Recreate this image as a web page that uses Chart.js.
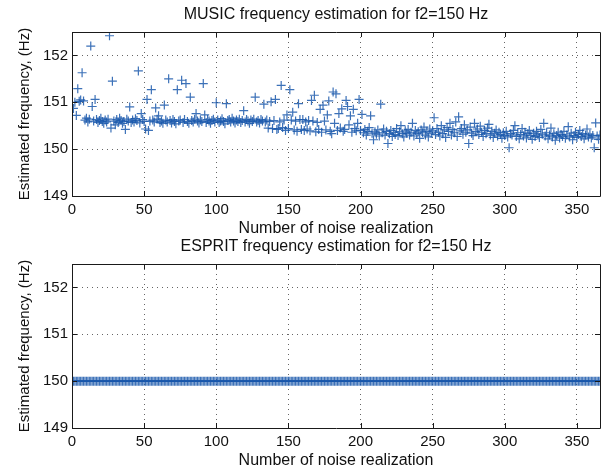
<!DOCTYPE html>
<html><head><meta charset="utf-8">
<script src="https://cdn.jsdelivr.net/npm/chart.js@4/dist/chart.umd.min.js"></script>
<style>
html,body{margin:0;padding:0;background:#fff;}
#wrap{position:relative;width:612px;height:471px;}
#c1{position:absolute;left:0;top:0;}
#c2{position:absolute;left:0;top:237px;}
</style></head><body>
<div id="wrap"><canvas id="c1" width="612" height="240"></canvas><canvas id="c2" width="612" height="234"></canvas></div>
<script>
const musicTitle = "MUSIC frequency estimation for f2=150 Hz";
const espritTitle = "ESPRIT frequency estimation for f2=150 Hz";
const xLabel = "Number of noise realization";
const yLabel = "Estimated frequency, (Hz)";
const xTicks = [0,50,100,150,200,250,300,350];
const yTicks = [149,150,151,152];

const music = [
150.87,151.00,150.72,151.29,151.02,151.05,151.63,151.03,150.62,150.66,
150.58,150.64,152.20,150.91,150.60,151.06,150.63,150.57,150.61,150.66,
150.59,150.55,150.62,150.58,150.64,152.42,150.45,151.45,150.60,150.52,
150.63,150.57,150.66,150.61,150.55,150.59,150.42,150.64,150.60,150.90,
150.57,150.62,150.58,150.65,150.61,151.67,150.56,150.76,150.63,150.59,
150.43,151.06,150.40,150.60,151.27,150.62,150.58,150.88,150.64,150.71,
150.57,150.60,150.55,150.94,150.62,150.58,151.50,150.61,150.56,150.63,
150.59,150.54,151.27,150.60,150.62,151.47,150.57,150.63,151.40,150.59,
150.55,151.11,150.61,150.58,150.64,150.76,150.60,150.56,150.62,150.59,
151.40,150.73,150.57,150.63,150.60,150.55,150.61,150.64,150.58,150.99,
150.62,150.57,150.60,150.65,150.59,150.54,150.97,150.61,150.63,150.58,
150.66,150.60,150.56,150.62,150.59,150.64,150.57,150.61,150.82,150.58,
150.63,150.60,150.55,150.62,150.59,150.64,151.11,150.58,150.61,150.56,
150.63,150.60,150.96,150.58,150.62,150.45,150.59,151.01,150.44,150.61,
151.06,150.42,150.44,150.58,151.36,150.46,150.62,150.40,150.73,150.44,
151.27,150.62,150.79,150.41,150.60,150.38,150.97,150.63,150.42,150.63,
150.40,150.58,150.43,150.61,150.39,151.04,150.60,151.15,150.37,150.57,
150.42,150.85,150.36,150.94,150.60,150.41,150.73,151.03,150.38,150.33,
151.22,150.55,151.18,150.40,150.76,150.45,150.86,150.38,150.42,151.04,
150.91,150.52,150.71,150.36,150.85,150.44,150.39,150.55,151.06,150.40,
150.74,150.35,150.42,150.30,150.38,150.46,150.71,150.34,150.20,150.37,
150.32,150.41,150.28,150.96,150.35,150.43,150.30,150.38,150.12,150.33,
150.40,150.27,150.36,150.31,150.44,150.29,150.37,150.50,150.33,150.26,
150.39,150.34,150.42,150.30,150.36,150.55,150.28,150.40,150.33,150.37,
150.23,150.41,150.35,150.47,150.30,150.38,150.26,150.43,150.34,150.39,
150.67,150.31,150.44,150.36,150.28,150.50,150.33,150.41,150.25,150.46,
150.38,150.55,150.30,150.42,150.35,150.58,150.27,150.69,150.39,150.44,
150.32,150.52,150.36,150.41,150.12,150.47,150.34,150.29,150.55,150.38,
150.43,150.31,150.49,150.36,150.27,150.40,150.33,150.45,150.53,150.30,
150.38,150.25,150.34,150.41,150.28,150.36,150.31,150.23,150.35,150.29,
150.38,150.26,150.03,150.33,150.30,150.40,150.50,150.27,150.35,150.22,
150.31,150.44,150.28,150.36,150.24,150.33,150.40,150.29,150.21,150.34,
150.27,150.38,150.30,150.25,150.42,150.32,150.55,150.28,150.35,150.22,
150.30,150.45,150.26,150.33,150.19,150.29,150.36,150.24,150.31,150.27,
150.38,150.23,150.30,150.48,150.26,150.34,150.20,150.29,150.36,150.25,
150.31,150.40,150.27,150.33,150.22,150.30,150.43,150.26,150.32,150.24,
150.29,150.03,150.56,150.28,150.21,150.30
];

const esprit = [
150,150,150,150,150,150,150,150,150,150,150,150,150,150,150,150,150,150,150,150,150,150,150,150,150,150,150,150,150,150,
150,150,150,150,150,150,150,150,150,150,150,150,150,150,150,150,150,150,150,150,150,150,150,150,150,150,150,150,150,150,
150,150,150,150,150,150,150,150,150,150,150,150,150,150,150,150,150,150,150,150,150,150,150,150,150,150,150,150,150,150,
150,150,150,150,150,150,150,150,150,150,150,150,150,150,150,150,150,150,150,150,150,150,150,150,150,150,150,150,150,150,
150,150,150,150,150,150,150,150,150,150,150,150,150,150,150,150,150,150,150,150,150,150,150,150,150,150,150,150,150,150,
150,150,150,150,150,150,150,150,150,150,150,150,150,150,150,150,150,150,150,150,150,150,150,150,150,150,150,150,150,150,
150,150,150,150,150,150,150,150,150,150,150,150,150,150,150,150,150,150,150,150,150,150,150,150,150,150,150,150,150,150,
150,150,150,150,150,150,150,150,150,150,150,150,150,150,150,150,150,150,150,150,150,150,150,150,150,150,150,150,150,150,
150,150,150,150,150,150,150,150,150,150,150,150,150,150,150,150,150,150,150,150,150,150,150,150,150,150,150,150,150,150,
150,150,150,150,150,150,150,150,150,150,150,150,150,150,150,150,150,150,150,150,150,150,150,150,150,150,150,150,150,150,
150,150,150,150,150,150,150,150,150,150,150,150,150,150,150,150,150,150,150,150,150,150,150,150,150,150,150,150,150,150,
150,150,150,150,150,150,150,150,150,150,150,150,150,150,150,150,150,150,150,150,150,150,150,150,150,150,150,150,150,150,
150,150,150,150,150,150
];

const FONT = "'Liberation Sans', Arial, Helvetica, sans-serif";
const markerColor = 'rgba(26,88,172,0.85)';

function nearInt(v, step){ const r = v/step; return Math.abs(r - Math.round(r)) < 1e-6; }

const boxPlugin = {
  id: 'matlabBox',
  afterDraw(chart){
    const {ctx, chartArea:a, scales} = chart;
    ctx.save();
    ctx.strokeStyle = '#1a1a1a';
    ctx.lineWidth = 1;
    ctx.beginPath();
    ctx.rect(Math.round(a.left)+0.5, Math.round(a.top)+0.5, Math.round(a.right-a.left), Math.round(a.bottom-a.top));
    ctx.stroke();
    const L = 5;
    ctx.beginPath();
    xTicks.forEach(t=>{
      const x = Math.round(scales.x.getPixelForValue(t))+0.5;
      ctx.moveTo(x, a.bottom); ctx.lineTo(x, a.bottom-L);
      ctx.moveTo(x, a.top); ctx.lineTo(x, a.top+L);
    });
    yTicks.forEach(t=>{
      const y = Math.round(scales.y.getPixelForValue(t))+0.5;
      ctx.moveTo(a.left, y); ctx.lineTo(a.left+L, y);
      ctx.moveTo(a.right, y); ctx.lineTo(a.right-L, y);
    });
    ctx.stroke();
    ctx.restore();
  }
};

function makeChart(id, title, values, topH, titleTop, xHeight, xTitleBottom){
  return new Chart(document.getElementById(id), {
    type: 'scatter',
    data: { datasets: [{
      data: values.map((v,i)=>({x:i+1, y:v})),
      pointStyle: 'cross',
      pointRadius: 4.5,
      pointBorderWidth: 1.2,
      borderColor: markerColor,
      backgroundColor: markerColor,
      showLine: false
    }]},
    options: {
      responsive: false,
      animation: false,
      events: [],
      layout: { padding: { left: 6, right: 12, top: 0, bottom: 0 } },
      plugins: {
        legend: { display: false },
        tooltip: { enabled: false },
        title: { display: false }
      },
      scales: {
        x: {
          type: 'linear', min: 0, max: 366,
          ticks: { stepSize: 50, autoSkip: false, includeBounds: false, color: '#111', font: { family: FONT, size: 15 }, padding: 5, maxRotation: 0 },
          afterBuildTicks: s => { s.ticks = s.ticks.filter(t => nearInt(t.value, 50)); },
          afterFit: s => { s.height = xHeight; },
          grid: { color: 'rgba(0,0,0,0.6)', drawTicks: false, lineWidth: 1 },
          border: { display: false, dash: [1,4] },
          title: { display: true, text: xLabel, color: '#111', font: { family: FONT, size: 16 }, padding: { top: 0, bottom: xTitleBottom } }
        },
        xTop: {
          type: 'linear', position: 'top', min: 0, max: 366,
          ticks: { display: false },
          afterFit: s => { s.height = topH; },
          grid: { display: false, drawTicks: false },
          border: { display: false },
          title: { display: true, text: title, color: '#111', font: { family: FONT, size: 16 }, padding: { top: titleTop, bottom: 0 } }
        },
        y: {
          type: 'linear', min: 149, max: 152.5,
          ticks: { stepSize: 1, autoSkip: false, includeBounds: false, color: '#111', font: { family: FONT, size: 15 }, padding: 4 },
          afterBuildTicks: s => { s.ticks = s.ticks.filter(t => nearInt(t.value, 1)); },
          afterFit: s => { s.width = 66; },
          grid: { color: 'rgba(0,0,0,0.6)', drawTicks: false, lineWidth: 1 },
          border: { display: false, dash: [1,4] },
          title: { display: true, text: yLabel, color: '#111', font: { family: FONT, size: 15 }, padding: { top: 10, bottom: 0 } }
        }
      }
    },
    plugins: [boxPlugin]
  });
}

Chart.defaults.font.family = FONT;
const c1 = makeChart('c1', musicTitle, music, 32, 5, 44, 1.4);
const c2 = makeChart('c2', espritTitle, esprit, 27, 0, 43, 0.4);
</script>
</body></html>
